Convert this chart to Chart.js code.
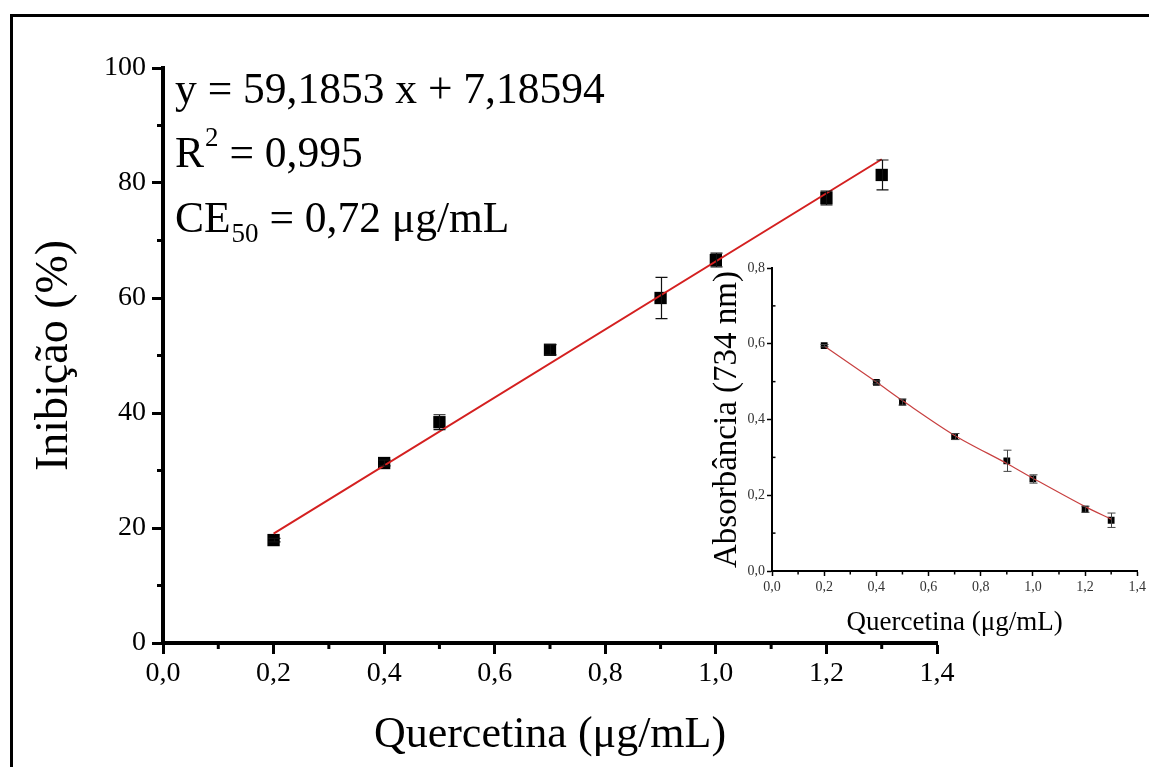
<!DOCTYPE html>
<html><head><meta charset="utf-8">
<script src="https://cdn.jsdelivr.net/npm/chart.js@4"></script>
<style>
html,body{margin:0;padding:0;background:#fff;overflow:hidden;width:1149px;height:767px;}
#frame{position:absolute;left:10px;top:14px;width:1160px;height:780px;border-left:3px solid #000;border-top:3px solid #000;}
#main{position:absolute;left:0;top:0;}
#inset{position:absolute;left:690px;top:240px;}
</style></head><body>
<div id="frame"></div>
<canvas id="main" width="1149" height="767"></canvas>
<canvas id="inset" width="459" height="400"></canvas>
<script>
// ---- data ----
const concentration = [0.2, 0.4, 0.5, 0.7, 0.9, 1.0, 1.2, 1.3];
const inhibition    = [17.9, 31.3, 38.4, 51.0, 60.0, 66.6, 77.4, 81.4];
const inhibitionErr = [0.3, 0.5, 1.3, 0.9, 3.6, 1.2, 1.2, 2.6];
const fitX = [0.2, 1.3];
const fitY = [19.02, 84.13];
const absorbance    = [0.595, 0.498, 0.446, 0.355, 0.291, 0.243, 0.163, 0.134];
const absorbanceErr = [0.003, 0.004, 0.008, 0.008, 0.028, 0.011, 0.008, 0.019];
const absorbanceFit = [0.594, 0.499, 0.450, 0.358, 0.284, 0.245, 0.170, 0.137];
const xTickValues = [0, 0.2, 0.4, 0.6, 0.8, 1.0, 1.2, 1.4];
const xTickLabels = ['0,0', '0,2', '0,4', '0,6', '0,8', '1,0', '1,2', '1,4'];
const xMinorTicks = [0.1, 0.3, 0.5, 0.7, 0.9, 1.1, 1.3];
const yTickValues = [0, 20, 40, 60, 80, 100];
const yTickLabels = ['0', '20', '40', '60', '80', '100'];
const yMinorTicks = [10, 30, 50, 70, 90];
const insetYTickValues = [0, 0.2, 0.4, 0.6, 0.8];
const insetYTickLabels = ['0,0', '0,2', '0,4', '0,6', '0,8'];
const insetYMinorTicks = [0.1, 0.3, 0.5, 0.7];
const xTitle = 'Quercetina (μg/mL)';
const yTitle = 'Inibição (%)';
const insetYTitle = 'Absorbância (734 nm)';
const equationText = 'y = 59,1853 x + 7,18594';
const r2Parts = ['R', '2', ' = 0,995'];
const ceParts = ['CE', '50', ' = 0,72 μg/mL'];

const SERIF = '"Liberation Serif", "Times New Roman", serif';

function fixedTicks(values) {
  return s => { s.ticks = values.map(v => ({ value: v })); };
}

// error bars + minor ticks plugin
const extras = {
  id: 'extras',
  afterDatasetsDraw(chart, args, opts) {
    const ctx = chart.ctx, xs = chart.scales.x, ys = chart.scales.y;
    ctx.save();
    ctx.strokeStyle = opts.errColor; ctx.lineWidth = opts.errWidth;
    opts.xs.forEach((xv, i) => {
      const px = Math.round(xs.getPixelForValue(xv)) + 0.5;
      const top = ys.getPixelForValue(opts.ys[i] + opts.errs[i]);
      const bot = ys.getPixelForValue(opts.ys[i] - opts.errs[i]);
      ctx.beginPath();
      ctx.moveTo(px, top); ctx.lineTo(px, bot);
      ctx.moveTo(px - opts.cap, top); ctx.lineTo(px + opts.cap, top);
      ctx.moveTo(px - opts.cap, bot); ctx.lineTo(px + opts.cap, bot);
      ctx.stroke();
    });
    ctx.restore();
  },
  afterDraw(chart, args, opts) {
    const ctx = chart.ctx, xs = chart.scales.x, ys = chart.scales.y, a = chart.chartArea;
    ctx.save();
    ctx.strokeStyle = '#000'; ctx.lineWidth = opts.minorWidth;
    opts.xMinor.forEach(v => {
      const px = xs.getPixelForValue(v);
      ctx.beginPath(); ctx.moveTo(px, a.bottom); ctx.lineTo(px, a.bottom + opts.minorLen); ctx.stroke();
    });
    opts.yMinor.forEach(v => {
      const py = ys.getPixelForValue(v);
      ctx.beginPath(); ctx.moveTo(a.left, py); ctx.lineTo(a.left + opts.yMinorDir * opts.minorLen, py); ctx.stroke();
    });
    if (opts.annotate) {
      ctx.fillStyle = '#000';
      ctx.textBaseline = 'alphabetic';
      ctx.textAlign = 'left';
      const big = '43.5px ' + SERIF, small = '27px ' + SERIF;
      const x0 = 175;
      ctx.font = big; ctx.fillText(equationText, x0, 103);
      // R^2
      let x = x0;
      ctx.font = big; ctx.fillText(r2Parts[0], x, 167); x += ctx.measureText(r2Parts[0]).width + 1;
      ctx.font = small; ctx.fillText(r2Parts[1], x, 146); x += ctx.measureText(r2Parts[1]).width;
      ctx.font = big; ctx.fillText(r2Parts[2], x, 167);
      // CE50
      x = x0;
      ctx.font = big; ctx.fillText(ceParts[0], x, 232); x += ctx.measureText(ceParts[0]).width + 1;
      ctx.font = small; ctx.fillText(ceParts[1], x, 242); x += ctx.measureText(ceParts[1]).width;
      ctx.font = big; ctx.fillText(ceParts[2], x, 232);
    }
    ctx.restore();
  }
};
Chart.register(extras);

// ---- main chart ----
new Chart(document.getElementById('main'), {
  type: 'scatter',
  data: {
    datasets: [
      {
        type: 'line',
        data: fitX.map((x, i) => ({ x: x, y: fitY[i] })),
        borderColor: '#d42020', borderWidth: 2, pointRadius: 0, fill: false, tension: 0
      },
      {
        data: concentration.map((x, i) => ({ x: x, y: inhibition[i] })),
        pointStyle: 'rect', pointRadius: 8.7, backgroundColor: '#000', borderColor: '#000', borderWidth: 0
      }
    ]
  },
  options: {
    responsive: false, animation: false, devicePixelRatio: 1,
    layout: { padding: { left: 0, top: 68, right: 212, bottom: 0 } },
    plugins: {
      legend: { display: false }, tooltip: { enabled: false },
      extras: {
        xs: concentration, ys: inhibition, errs: inhibitionErr,
        errColor: '#111', errWidth: 1.2, cap: 6,
        xMinor: xMinorTicks, yMinor: yMinorTicks, minorLen: 6, minorWidth: 3, yMinorDir: -1,
        annotate: true
      }
    },
    scales: {
      x: {
        type: 'linear', min: 0, max: 1.4,
        afterBuildTicks: fixedTicks(xTickValues),
        afterFit: s => { s.height = 124; },
        border: { display: true, color: '#000', width: 4 },
        grid: { display: true, drawOnChartArea: false, drawTicks: true, tickLength: 11, tickWidth: 3, tickColor: '#000' },
        ticks: { callback: (v, i) => xTickLabels[i], color: '#000', font: { family: SERIF, size: 28 }, padding: 3, maxRotation: 0 },
        title: { display: true, text: xTitle, color: '#000', font: { family: SERIF, size: 44, lineHeight: 1 }, padding: { top: 0, bottom: 10 } }
      },
      y: {
        type: 'linear', min: 0, max: 100,
        afterBuildTicks: fixedTicks(yTickValues),
        afterFit: s => { s.width = 163; },
        border: { display: true, color: '#000', width: 4 },
        grid: { display: true, drawOnChartArea: false, drawTicks: true, tickLength: 11, tickWidth: 3, tickColor: '#000' },
        ticks: { callback: (v, i) => yTickLabels[i], color: '#000', font: { family: SERIF, size: 28 }, padding: 6 },
        title: { display: true, text: yTitle, color: '#000', font: { family: SERIF, size: 46, lineHeight: 1 }, padding: { top: 32, bottom: 0 } }
      }
    }
  }
});

// ---- inset chart ----
new Chart(document.getElementById('inset'), {
  type: 'scatter',
  data: {
    datasets: [
      {
        type: 'line',
        data: concentration.map((x, i) => ({ x: x, y: absorbanceFit[i] })),
        borderColor: '#c84040', borderWidth: 1.2, pointRadius: 0, fill: false, tension: 0.3
      },
      {
        data: concentration.map((x, i) => ({ x: x, y: absorbance[i] })),
        pointStyle: 'rect', pointRadius: 4.8, backgroundColor: '#000', borderColor: '#000', borderWidth: 0
      }
    ]
  },
  options: {
    responsive: false, animation: false, devicePixelRatio: 1,
    layout: { padding: { left: 0, top: 28, right: 8, bottom: 0 } },
    plugins: {
      legend: { display: false }, tooltip: { enabled: false },
      extras: {
        xs: concentration, ys: absorbance, errs: absorbanceErr,
        errColor: '#444', errWidth: 1, cap: 4,
        xMinor: xMinorTicks, yMinor: insetYMinorTicks, minorLen: 3.5, minorWidth: 1.5, yMinorDir: 1,
        annotate: false
      }
    },
    scales: {
      x: {
        type: 'linear', min: 0, max: 1.4,
        afterBuildTicks: fixedTicks(xTickValues),
        afterFit: s => { s.height = 69; },
        border: { display: true, color: '#000', width: 2 },
        grid: { display: true, drawOnChartArea: false, drawTicks: true, tickLength: 5, tickWidth: 1.5, tickColor: '#000' },
        ticks: { callback: (v, i) => xTickLabels[i], color: '#333', font: { family: SERIF, size: 14 }, padding: 3, maxRotation: 0 },
        title: { display: true, text: xTitle, color: '#000', font: { family: SERIF, size: 27, lineHeight: 1 }, padding: { top: 0, bottom: 3.5 } }
      },
      y: {
        type: 'linear', min: 0, max: 0.8,
        afterBuildTicks: fixedTicks(insetYTickValues),
        afterFit: s => { s.width = 82; },
        border: { display: true, color: '#000', width: 2 },
        grid: { display: true, drawOnChartArea: false, drawTicks: true, tickLength: 5, tickWidth: 1.5, tickColor: '#000' },
        ticks: { callback: (v, i) => insetYTickLabels[i], color: '#333', font: { family: SERIF, size: 14 }, padding: 2 },
        title: { display: true, text: insetYTitle, color: '#000', font: { family: SERIF, size: 33, lineHeight: 1 }, padding: { top: 21, bottom: 0 } }
      }
    }
  }
});
</script>
</body></html>
